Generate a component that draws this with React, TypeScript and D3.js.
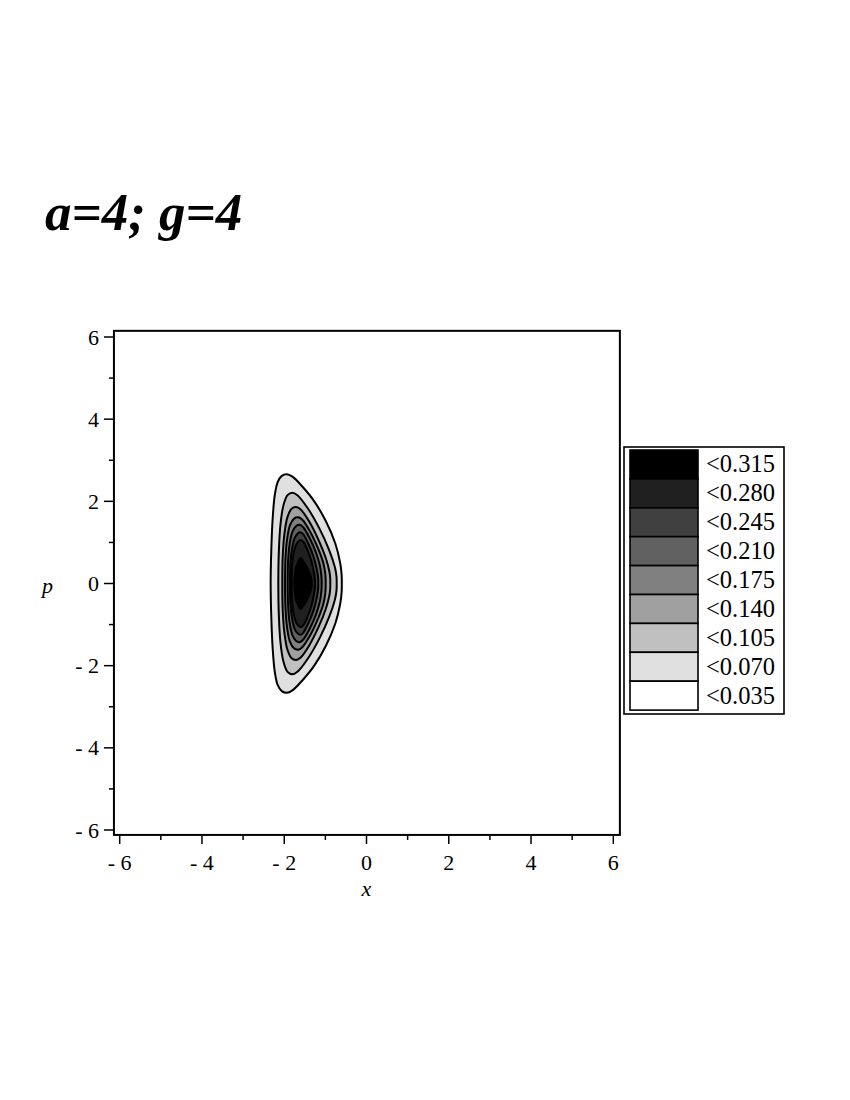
import React from "react";
import * as d3 from "d3";

// ---- data ----
const title = "a=4; g=4";
const xLabel = "x";
const yLabel = "p";

const majorTicks = [-6, -4, -2, 0, 2, 4, 6];
const minorTicks = [-5, -3, -1, 1, 3, 5];
const xView = [-6.14, 6.16];
const pView = [-6.12, 6.15];

// upper bounds shown in the legend (top row = highest)
const levelBounds = [0.035, 0.07, 0.105, 0.14, 0.175, 0.21, 0.245, 0.28, 0.315];
const levelColors = ["#ffffff", "#e0e0e0", "#c0c0c0", "#a0a0a0", "#808080", "#606060", "#404040", "#202020", "#000000"];

// contour lines (upper half, p >= 0; the figure is symmetric in p), [x, p]
const contour035: [number, number][] = [
  [-2.33, 0], [-2.315, 0.8], [-2.28, 1.6], [-2.23, 2.15], [-2.16, 2.47], [-2.06, 2.62],
  [-1.94, 2.66], [-1.8, 2.6], [-1.56, 2.36], [-1.27, 2.0], [-0.99, 1.52], [-0.76, 0.98],
  [-0.64, 0.5], [-0.605, 0.22], [-0.6, 0],
];
const contour070: [number, number][] = [
  [-2.144, 0], [-2.13, 0.8], [-2.09, 1.45], [-2.02, 1.9], [-1.92, 2.15], [-1.8, 2.21],
  [-1.68, 2.15], [-1.42, 1.82], [-1.14, 1.33], [-0.91, 0.82], [-0.77, 0.4], [-0.73, 0.18], [-0.725, 0],
];
const contour105: [number, number][] = [
  [-2.047, 0], [-2.035, 0.7], [-1.99, 1.25], [-1.92, 1.62], [-1.82, 1.82], [-1.71, 1.86],
  [-1.6, 1.8], [-1.4, 1.52], [-1.17, 1.07], [-0.99, 0.62], [-0.9, 0.28], [-0.882, 0.12], [-0.88, 0],
];
const contour140: [number, number][] = [
  [-1.981, 0], [-1.97, 0.6], [-1.93, 1.08], [-1.86, 1.42], [-1.76, 1.58], [-1.66, 1.61],
  [-1.56, 1.55], [-1.38, 1.28], [-1.18, 0.86], [-1.05, 0.5], [-1.0, 0.22], [-0.992, 0],
];
const contour175: [number, number][] = [
  [-1.916, 0], [-1.905, 0.55], [-1.87, 0.95], [-1.8, 1.26], [-1.71, 1.4], [-1.63, 1.43],
  [-1.54, 1.37], [-1.39, 1.12], [-1.23, 0.76], [-1.13, 0.42], [-1.095, 0.17], [-1.089, 0],
];
const contour210: [number, number][] = [
  [-1.86, 0], [-1.85, 0.5], [-1.81, 0.85], [-1.75, 1.1], [-1.67, 1.22], [-1.61, 1.25],
  [-1.54, 1.2], [-1.42, 0.98], [-1.29, 0.66], [-1.21, 0.35], [-1.176, 0.14], [-1.172, 0],
];
const contour245: [number, number][] = [
  [-1.819, 0], [-1.81, 0.45], [-1.77, 0.75], [-1.71, 0.95], [-1.64, 1.04], [-1.59, 1.06],
  [-1.53, 1.01], [-1.44, 0.83], [-1.34, 0.55], [-1.28, 0.28], [-1.255, 0.1], [-1.252, 0],
];
const contour280: [number, number][] = [
  [-1.755, 0], [-1.745, 0.2], [-1.71, 0.4], [-1.65, 0.55], [-1.6, 0.62], [-1.55, 0.56],
  [-1.46, 0.42], [-1.38, 0.24], [-1.34, 0.1], [-1.332, 0],
];
const contours = [contour035, contour070, contour105, contour140, contour175, contour210, contour245, contour280];

const FONT = "'Liberation Serif', 'Times New Roman', Times, serif";

function fullRing(half: [number, number][]): [number, number][] {
  const lower = half.slice(1, -1).reverse().map(([a, b]) => [a, -b] as [number, number]);
  return [...half, ...lower];
}

function tickText(v: number): string {
  return v < 0 ? `- ${-v}` : `${v}`;
}

export default function App() {
  const x = d3.scaleLinear().domain([-6, 6]).range([119.7, 613.3]);
  const y = d3.scaleLinear().domain([-6, 6]).range([830, 337]);

  const line = d3
    .line<[number, number]>()
    .x((d) => x(d[0]))
    .y((d) => y(d[1]))
    .curve(d3.curveCatmullRomClosed.alpha(0.5));

  const fx0 = x(xView[0]);
  const fx1 = x(xView[1]);
  const fy0 = y(pView[1]);
  const fy1 = y(pView[0]);

  // legend
  const legX = 624;
  const legY = 447;
  const legW = 160;
  const legH = 267;
  const swX = 630;
  const swW = 68;
  const rowsTop = 450;
  const rowH = 28.9;
  const legendRows = levelBounds.map((b, i) => ({ bound: b, color: levelColors[i] })).reverse();

  return (
    <div style={{ position: "absolute", left: 0, top: 0 }}>
      <svg width={850} height={1100} style={{ display: "block", background: "#fff" }}>
        <text x={45} y={230} fontFamily={FONT} fontSize={53} fontWeight="bold" fontStyle="italic" fill="#000">
          {title}
        </text>

        {/* contours */}
        <g>
          {contours.map((c, i) => (
            <path
              key={i}
              d={line(fullRing(c)) || ""}
              fill={levelColors[i + 1]}
              stroke="#000"
              strokeWidth={2}
              strokeLinejoin="round"
            />
          ))}
        </g>

        {/* frame */}
        <rect x={fx0} y={fy0} width={fx1 - fx0} height={fy1 - fy0} fill="none" stroke="#000" strokeWidth={2} />

        {/* x ticks */}
        {majorTicks.map((v) => (
          <line key={"xM" + v} x1={x(v)} x2={x(v)} y1={fy1 + 1} y2={fy1 + 9} stroke="#000" strokeWidth={1.5} />
        ))}
        {minorTicks.map((v) => (
          <line key={"xm" + v} x1={x(v)} x2={x(v)} y1={fy1 + 1} y2={fy1 + 5} stroke="#000" strokeWidth={1.5} />
        ))}
        {majorTicks.map((v) => (
          <text key={"xl" + v} x={x(v)} y={870} textAnchor="middle" fontFamily={FONT} fontSize={22} fill="#000">
            {tickText(v)}
          </text>
        ))}
        <text x={x(0)} y={896} textAnchor="middle" fontFamily={FONT} fontSize={22} fontStyle="italic" fill="#000">
          {xLabel}
        </text>

        {/* y ticks */}
        {majorTicks.map((v) => (
          <line key={"yM" + v} x1={fx0 - 10} x2={fx0} y1={y(v)} y2={y(v)} stroke="#000" strokeWidth={1.5} />
        ))}
        {minorTicks.map((v) => (
          <line key={"ym" + v} x1={fx0 - 5} x2={fx0} y1={y(v)} y2={y(v)} stroke="#000" strokeWidth={1.5} />
        ))}
        {majorTicks.map((v) => (
          <text key={"yl" + v} x={99} y={y(v) + 7.5} textAnchor="end" fontFamily={FONT} fontSize={22} fill="#000">
            {tickText(v)}
          </text>
        ))}
        <text x={42} y={y(0) + 9} fontFamily={FONT} fontSize={22} fontStyle="italic" fill="#000">
          {yLabel}
        </text>

        {/* legend */}
        <rect x={legX} y={legY} width={legW} height={legH} fill="#fff" stroke="#000" strokeWidth={1.6} />
        {legendRows.map((r, i) => (
          <g key={"lg" + i}>
            <rect x={swX} y={rowsTop + i * rowH} width={swW} height={rowH} fill={r.color} stroke="#000" strokeWidth={1.6} />
            <text x={706} y={rowsTop + i * rowH + rowH / 2 + 8} fontFamily={FONT} fontSize={24.5} fill="#000">
              {"<" + r.bound.toFixed(3)}
            </text>
          </g>
        ))}
      </svg>
    </div>
  );
}
